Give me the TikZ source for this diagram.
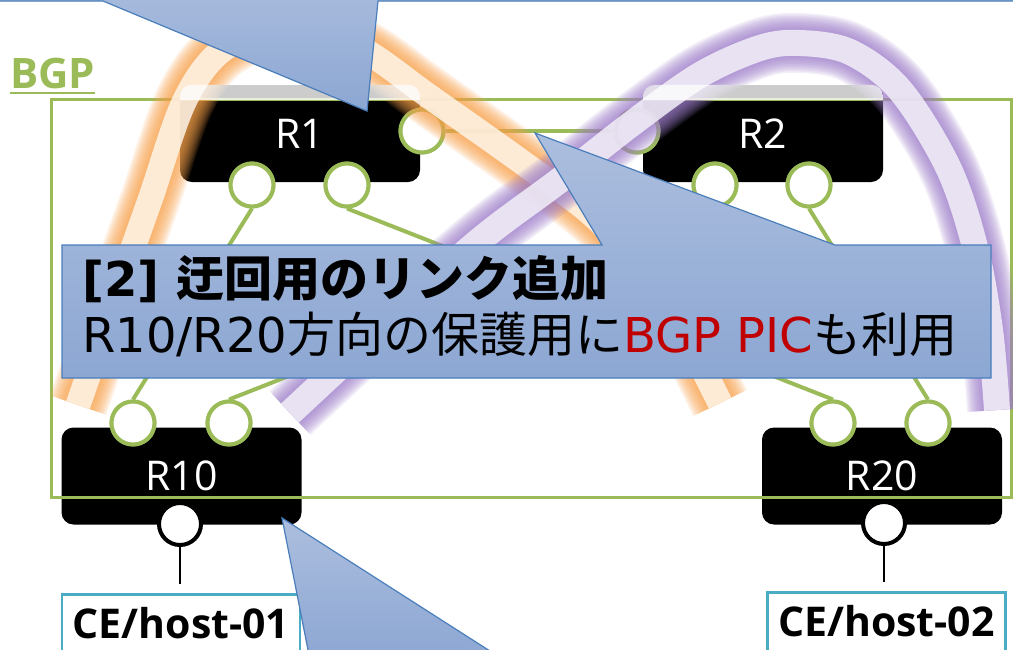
\documentclass[tikz,border=0pt]{standalone}
\usepackage{fontspec}
\setmainfont{DejaVu Sans}
\newfontfamily\jp{Noto Sans CJK JP}
\newfontfamily\osans{Open Sans}
\definecolor{bgpgreen}{HTML}{9BBB59}
\definecolor{cebord}{HTML}{4BACC6}
\definecolor{calloutline}{HTML}{4A7EBB}
\definecolor{pictext}{HTML}{C00000}
\definecolor{orglow}{HTML}{F7A04A}
\definecolor{orcore}{HTML}{FEF4E8}
\definecolor{puglow}{HTML}{9C7CC8}
\definecolor{pucore}{HTML}{F2EFF9}
\begin{document}
\begin{tikzpicture}[x=1pt,y=-1pt,
  router/.style={fill=black, rounded corners=12pt, minimum width=240pt, minimum height=97pt, inner sep=0pt, text=white, font=\osans\fontsize{41}{41}\selectfont, text height=29pt, text depth=0pt},
  port/.style={circle, draw=bgpgreen, line width=4pt, fill=white, minimum size=43pt, inner sep=0pt},
  cport/.style={circle, draw=black, line width=4pt, fill=white, minimum size=42pt, inner sep=0pt},
  link/.style={draw=bgpgreen, line width=4pt},
  celink/.style={draw=black, line width=2pt},
  cebox/.style={draw=cebord, line width=2.5pt, fill=white, minimum width=238pt, font=\osans\bfseries\fontsize{41}{41}\selectfont, text height=28pt, text depth=0pt, inner ysep=16pt, inner xsep=4pt, anchor=north},
  callout/.style={draw=calloutline, line width=1.2pt, top color={rgb,255:red,172;green,190;blue,222}, bottom color={rgb,255:red,140;green,167;blue,211}},
  frame/.style={draw=bgpgreen, line width=3pt}
]
\useasboundingbox (0,0) rectangle (1013,649);

% routers
\node[router] (R1) at (300,133.5) {R1};
\node[router] (R2) at (763,133.5) {R2};
\node[router] (R10) at (181.5,476) {R10};
\node[router] (R20) at (882,476) {R20};

% BGP frame
\draw[frame] (51,99) rectangle (1011,497);
\node[anchor=base west, inner sep=0pt, text=bgpgreen, font=\osans\bfseries\fontsize{42}{42}\selectfont] (bgp) at (10,88) {BGP};
\draw[bgpgreen, line width=2.5pt] ([yshift=-5pt]bgp.base west) -- ([yshift=-5pt]bgp.base east);

% ports (positions)
\node[port] (p1r) at (422,131) {};
\node[port] (p1a) at (252,185) {};
\node[port] (p1b) at (347,185) {};
\node[port] (p2l) at (637,131) {};
\node[port] (p2a) at (715,185) {};
\node[port] (p2b) at (809,185) {};
\node[port] (p10a) at (133,423) {};
\node[port] (p10b) at (229,423) {};
\node[port] (p20a) at (833,423) {};
\node[port] (p20b) at (928,423) {};
\node[cport] (p10c) at (180,524) {};
\node[cport] (p20c) at (884,523) {};

% links
\draw[link] (p1r.east) -- (p2l.west);
\draw[link] (p1a.south) -- (p10a.north);
\draw[link] (p1b.south) -- (p20a.north);
\draw[link] (p2a.south) -- (p10b.north);
\draw[link] (p2b.south) -- (p20b.north);
% ports over links
\foreach \p in {p1r,p1a,p1b,p2l,p2a,p2b,p10a,p10b,p20a,p20b}{
  \node[port] at (\p) {};
}

% orange band
\foreach \w in {60,57,54,51,48,45,42,39,36,33,30}{
  \draw[line width=\w pt, orglow, opacity=0.12] plot[smooth,tension=0.55] coordinates {(78,405) (118,290) (150,200) (185,100) (225,48) (290,25) (360,48) (430,97) (530,168) (600,222) (665,300) (720,403)};
}
\draw[line width=25pt, orcore, opacity=0.85] plot[smooth,tension=0.55] coordinates {(78,405) (118,290) (150,200) (185,100) (225,48) (290,25) (360,48) (430,97) (530,168) (600,222) (665,300) (720,403)};

% purple band
\foreach \w in {60,57,54,51,48,45,42,39,36,33,30}{
  \draw[line width=\w pt, puglow, opacity=0.12] plot[smooth,tension=0.55] coordinates {(290,413) (385,325) (480,240) (560,180) (630,125) (700,75) (760,48) (800,43) (850,52) (900,90) (948,167) (975,247) (990,330) (997,410)};
}
\draw[line width=26pt, pucore, opacity=0.85] plot[smooth,tension=0.55] coordinates {(290,413) (385,325) (480,240) (560,180) (630,125) (700,75) (760,48) (800,43) (850,52) (900,90) (948,167) (975,247) (990,330) (997,410)};

% translucent strips on R1/R2
\begin{scope}
\clip[rounded corners=12pt] (R1.north west) rectangle (R1.south east);
\fill[white, opacity=0.8] (180,84) rectangle (420,100);
\end{scope}
\begin{scope}
\clip[rounded corners=12pt] (R2.north west) rectangle (R2.south east);
\fill[white, opacity=0.8] (643,84) rectangle (883,100);
\end{scope}

% CE
\coordinate (c1) at (180,584);
\coordinate (c2) at (884,582);
\draw[celink] (p10c.south) -- (c1);
\draw[celink] (p20c.south) -- (c2);
\node[cebox] (ce1) at (181,593) {CE/host-01};
\node[cebox] (ce2) at (886.5,591) {CE/host-02};

% callouts
\draw[callout] (-5,-30) -- (1018,-30) -- (1018,1) -- (378,1) -- (367,111) -- (103,1) -- (-5,1) -- cycle;
\draw[callout] (62,245) -- (602,245) -- (535,133) -- (835,245) -- (991,245) -- (991,378) -- (62,378) -- cycle;
\draw[callout] (310,660) -- (282,518) -- (504,660) -- cycle;

\node[anchor=base west, inner sep=0pt, font=\bfseries\fontsize{48}{48}\selectfont] (t1) at (82,296) {[2] {\jp 迂回用のリンク追加}};
\node[anchor=base west, inner sep=0pt, font=\fontsize{48}{48}\selectfont] (t2) at (82,352) {R10/R20{\jp 方向の保護用に}\textcolor{pictext}{BGP PIC}{\jp も利用}};
\end{tikzpicture}
\end{document}
